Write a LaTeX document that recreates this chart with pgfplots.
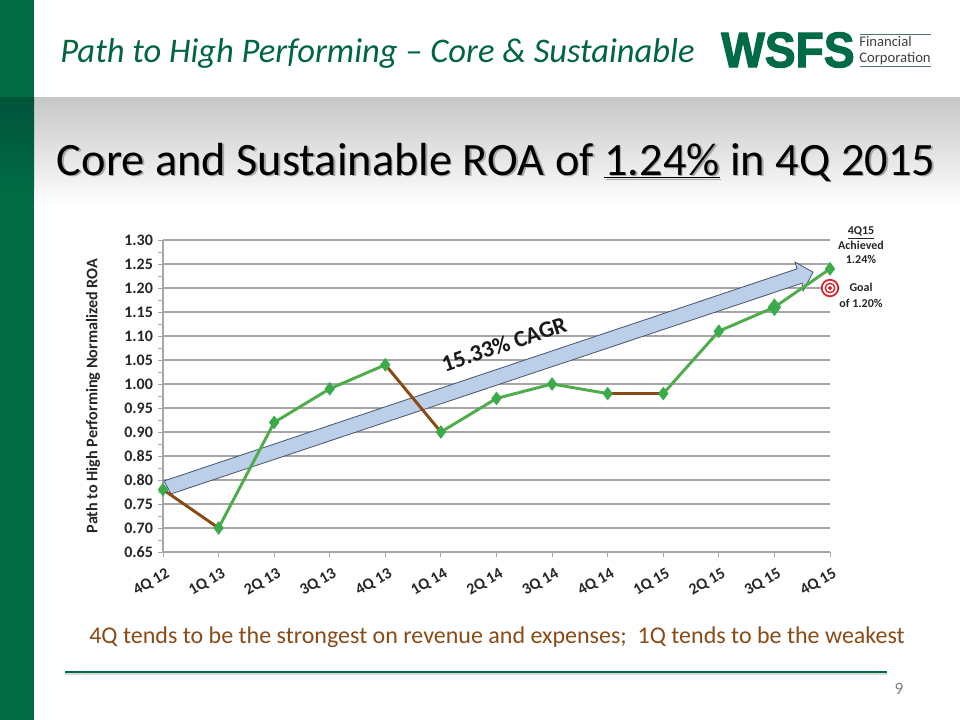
\documentclass[border=0pt]{standalone}
\usepackage{pgfplots}
\pgfplotsset{compat=1.18}
\usepackage{fontspec}
\setmainfont{Carlito}
\newfontfamily\logofont[FakeBold=2.5]{Liberation Sans Bold}
\definecolor{wsgreen}{HTML}{006B45}
\definecolor{wsdark}{HTML}{00543A}
\definecolor{titlegreen}{HTML}{00663F}
\definecolor{linegreen}{HTML}{4EAC4A}
\definecolor{markgreen}{HTML}{3BAA4B}
\definecolor{segbrown}{HTML}{8B4A14}
\definecolor{subbrown}{HTML}{8A4B17}
\definecolor{arrowblue}{HTML}{BCCFE8}
\definecolor{arrowedge}{HTML}{44546A}
\definecolor{gridgray}{HTML}{A6A6A6}
\definecolor{targetred}{HTML}{D9222A}
\begin{document}
\begin{tikzpicture}
\useasboundingbox (0pt,0pt) rectangle (720pt,-540pt);
\begin{scope}[x=0.75pt,y=-0.75pt]
\fill[white] (0,0) rectangle (960,720);
\shade[top color=black!22,bottom color=white] (34,98) rectangle (960,206);
\fill[wsgreen] (0,0) rectangle (34,720);
\shade[top color=wsdark,bottom color=wsgreen] (0,98) rectangle (34,190);
\node[anchor=west,inner sep=0pt,text=titlegreen] at (60,53) {\fontsize{25.9}{28}\selectfont\itshape Path to High Performing -- Core \& Sustainable};
\node[anchor=west,inner sep=0pt,text=wsgreen] at (721,50) {\resizebox{100pt}{26pt}{\logofont WSFS}};
\fill[black!45!wsgreen!70] (860,34) rectangle (931,35.5);
\fill[black!45!wsgreen!70] (860,66) rectangle (931,67.5);
\node[anchor=west,inner sep=0pt,text=black!75,align=left,font=\fontsize{11}{11.5}\selectfont] at (859,50.5) {Financial\\Corporation};
\node[anchor=center,inner sep=0pt,text=black!35] at (497.5,163.5) {\fontsize{34.8}{40}\selectfont Core and Sustainable ROA of \underline{1.24\%} in 4Q 2015};
\node[anchor=center,inner sep=0pt,text=black] at (496,162) {\fontsize{34.8}{40}\selectfont Core and Sustainable ROA of \underline{1.24\%} in 4Q 2015};
\end{scope}
\begin{axis}[
  at={(122.25pt,-414pt)},anchor=south west,
  scale only axis,width=500.25pt,height=234pt,
  xmin=0,xmax=12,ymin=0.65,ymax=1.30,
  xtick={0,...,12},
  xticklabels={4Q 12,1Q 13,2Q 13,3Q 13,4Q 13,1Q 14,2Q 14,3Q 14,4Q 14,1Q 15,2Q 15,3Q 15,4Q 15},
  ytick={0.65,0.70,...,1.301},
  minor y tick num=1,
  ymajorgrids,
  major grid style={gridgray,line width=0.9pt},
  y tick label style={/pgf/number format/.cd,fixed,fixed zerofill,precision=2,assume math mode=true},
  tick label style={font=\fontsize{12}{13}\selectfont\bfseries,text=black!85},
  x tick label style={rotate=30,anchor=north east,inner sep=1pt,yshift=-6pt,xshift=-1pt},
  ylabel={\fontsize{12.1}{13}\selectfont\bfseries Path to High Performing Normalized ROA},
  every axis y label/.style={at={(axis description cs:-0.105,0.5)},rotate=90,anchor=center,text=black!85},
  axis line style={gridgray,line width=0.8pt},
  axis x line*=bottom,axis y line*=left,
  x axis line style={-},y axis line style={-},
  tick style={gridgray,line width=0.7pt},
  tick align=outside,
  major tick length=4pt,minor tick length=4pt,
  clip=false,
]
\fill[arrowblue,draw=arrowedge,line width=0.6pt]
 (axis cs:0.018,0.798)--(axis cs:11.407,1.240)--(axis cs:11.371,1.254)--(axis cs:11.695,1.233)--(axis cs:11.515,1.194)--(axis cs:11.497,1.210)--(axis cs:0.144,0.771)--cycle;
\addplot[linegreen,line width=2.2pt,forget plot] coordinates {(1,0.70)(2,0.92)(3,0.99)(4,1.04)};
\addplot[linegreen,line width=2.2pt,forget plot] coordinates {(5,0.90)(6,0.97)(7,1.00)(8,0.98)};
\addplot[linegreen,line width=2.2pt,forget plot] coordinates {(9,0.98)(10,1.11)(11,1.16)(12,1.24)};
\addplot[segbrown,line width=2.2pt,forget plot] coordinates {(0,0.78)(1,0.70)};
\addplot[segbrown,line width=2.2pt,forget plot] coordinates {(4,1.04)(5,0.90)};
\addplot[segbrown,line width=2.2pt,forget plot] coordinates {(8,0.98)(9,0.98)};
\addplot[only marks,mark=diamond*,mark size=4.8pt,mark options={fill=markgreen,draw=markgreen}] coordinates {(0,0.78)(1,0.70)(2,0.92)(3,0.99)(4,1.04)(5,0.90)(6,0.97)(7,1.00)(8,0.98)(9,0.98)(10,1.11)(12,1.24)};
\addplot[only marks,mark=diamond*,mark size=6.3pt,mark options={fill=markgreen,draw=markgreen}] coordinates {(11,1.16)};
\addplot[only marks,mark=*,mark size=6.2pt,mark options={fill=white,draw=targetred,line width=1.3pt}] coordinates {(12,1.20)};
\addplot[only marks,mark=*,mark size=3.5pt,mark options={fill=white,draw=targetred,line width=1pt}] coordinates {(12,1.20)};
\addplot[only marks,mark=*,mark size=1.4pt,mark options={fill=targetred,draw=targetred}] coordinates {(12,1.20)};
\end{axis}
\begin{scope}[x=0.75pt,y=-0.75pt]
\node[inner sep=0pt,rotate=18.5,text=black!90] at (504,344) {\fontsize{17.5}{20}\selectfont\bfseries 15.33\% CAGR};
\node[inner sep=0pt,align=center,text=black!85,font=\fontsize{9}{10.9}\selectfont\bfseries] at (861,245.5) {\underline{4Q15}\\Achieved\\1.24\%};
\node[inner sep=0pt,align=center,text=black!85,font=\fontsize{9}{12.2}\selectfont\bfseries] at (861,295.5) {Goal\\of 1.20\%};
\node[inner sep=0pt,text=subbrown] at (497,637) {\fontsize{18}{20}\selectfont 4Q tends to be the strongest on revenue and expenses;\ \ 1Q tends to be the weakest};
\fill[black!15] (65,673) rectangle (887,675);
\fill[wsgreen] (65,671) rectangle (887,673);
\node[inner sep=0pt,text=black!50] at (899,689) {\fontsize{13}{14}\selectfont 9};
\end{scope}
\end{tikzpicture}
\end{document}
